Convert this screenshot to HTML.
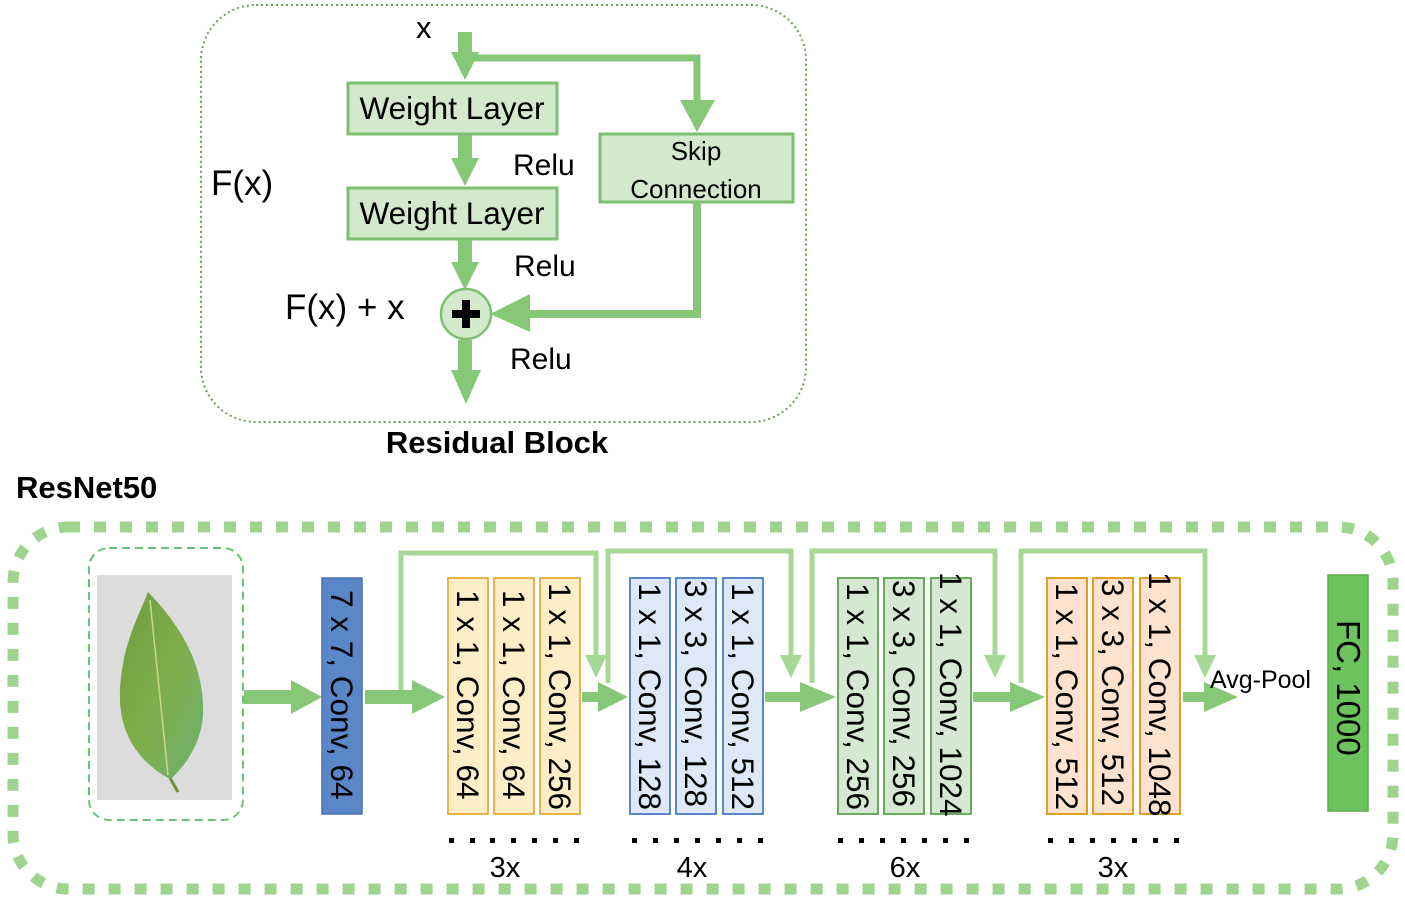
<!DOCTYPE html>
<html><head><meta charset="utf-8"><style>
html,body{margin:0;padding:0;background:#fff;}
svg{display:block;font-family:"Liberation Sans",Arial,sans-serif;}
</style></head><body>
<svg width="1405" height="903" viewBox="0 0 1405 903" xmlns="http://www.w3.org/2000/svg">
<defs>
<linearGradient id="lf" x1="0" y1="0" x2="1" y2="1">
<stop offset="0" stop-color="#6f9c3c"/><stop offset="0.5" stop-color="#7fae4a"/><stop offset="1" stop-color="#6fb070"/>
</linearGradient>
</defs>
<rect x="201" y="5" width="605" height="417" rx="55" fill="none" stroke="#6e9e5e" stroke-width="2" stroke-dasharray="2 3"/>
<text x="416" y="38" font-size="31">x</text>
<rect x="458" y="32" width="14" height="22" fill="#86c878"/>
<polygon points="451,52 479,52 465,80" fill="#86c878"/>
<polyline points="472,58 697,58 697,100" fill="none" stroke="#86c878" stroke-width="7"/>
<polygon points="680,100 715,100 697,132" fill="#86c878"/>
<rect x="348" y="83" width="209" height="51" fill="#d3e9cc" stroke="#7cc070" stroke-width="3"/>
<text x="452" y="119" font-size="31.5" text-anchor="middle">Weight Layer</text>
<rect x="458" y="135" width="14" height="26" fill="#86c878"/>
<polygon points="451,158 479,158 465,186" fill="#86c878"/>
<rect x="348" y="188" width="209" height="51" fill="#d3e9cc" stroke="#7cc070" stroke-width="3"/>
<text x="452" y="224" font-size="31.5" text-anchor="middle">Weight Layer</text>
<rect x="458" y="240" width="14" height="26" fill="#86c878"/>
<polygon points="451,262 479,262 465,290" fill="#86c878"/>
<rect x="600" y="134" width="193" height="68" fill="#d3e9cc" stroke="#7cc070" stroke-width="3"/>
<text x="696" y="160" font-size="26" text-anchor="middle">Skip</text>
<text x="696" y="198" font-size="26" text-anchor="middle">Connection</text>
<polyline points="697,202 697,314 525,314" fill="none" stroke="#86c878" stroke-width="8"/>
<polygon points="530,294 530,332 490,314" fill="#86c878"/>
<circle cx="466" cy="314" r="25" fill="#d3e9cc" stroke="#7cc070" stroke-width="2.5"/>
<rect x="462" y="300" width="8" height="28" fill="#000"/>
<rect x="452" y="310" width="28" height="8" fill="#000"/>
<rect x="458" y="340" width="14" height="32" fill="#86c878"/>
<polygon points="451,370 481,370 466,404" fill="#86c878"/>
<text x="513" y="175" font-size="30">Relu</text>
<text x="514" y="276" font-size="30">Relu</text>
<text x="510" y="369" font-size="30">Relu</text>
<text x="211" y="195" font-size="35">F(x)</text>
<text x="285" y="319" font-size="35">F(x) + x</text>
<text x="497" y="453" font-size="31" font-weight="bold" text-anchor="middle">Residual Block</text>
<text x="16" y="498" font-size="31" font-weight="bold">ResNet50</text>

<rect x="13" y="527" width="1380" height="362" rx="55" fill="none" stroke="#9fd48f" stroke-width="11" stroke-dasharray="12 14"/>
<rect x="89" y="548" width="154" height="272" rx="20" fill="none" stroke="#6cc47a" stroke-width="2" stroke-dasharray="8 5"/>
<rect x="97" y="575" width="135" height="225" fill="#dcdcdc"/>
<path d="M148,592 C175,620 205,660 203,715 C201,745 185,765 172,778 L168,778 C140,762 118,735 120,690 C122,645 138,618 148,592 Z" fill="url(#lf)"/>
<path d="M170,778 L178,792" stroke="#6f8f3a" stroke-width="3"/>
<path d="M150,600 L168,775" stroke="#c8d88a" stroke-width="1.5" fill="none"/>

<g fill="#86c878">
<rect x="244" y="690" width="50" height="14"/><polygon points="291,680 291,714 322,697"/>
<rect x="365" y="690" width="50" height="14"/><polygon points="412,680 412,714 445,697"/>
<rect x="582" y="692" width="20" height="10"/><polygon points="598,682 598,712 628,697"/>
<rect x="765" y="692" width="40" height="10"/><polygon points="800,682 800,712 836,697"/>
<rect x="973" y="692" width="40" height="10"/><polygon points="1010,682 1010,712 1045,697"/>
<rect x="1183" y="692" width="25" height="10"/><polygon points="1204,682 1204,712 1238,697"/>
</g>
<g fill="none" stroke="#a6d898" stroke-width="5">
<polyline points="401,690 401,553 596,553 596,660"/>
<polyline points="608,683 608,551 791,551 791,660"/>
<polyline points="812,683 812,551 995,551 995,660"/>
<polyline points="1021,683 1021,551 1205,551 1205,660"/>
</g>
<g fill="#a6d898">
<polygon points="585,655 607,655 596,678"/>
<polygon points="780,655 802,655 791,678"/>
<polygon points="984,655 1006,655 995,678"/>
<polygon points="1194,655 1216,655 1205,678"/>
</g>

<rect x="322" y="578" width="40" height="236" fill="#5b86c8" stroke="#4a72b0" stroke-width="1.5"/>
<g fill="#fdeec8" stroke="#e6b44e" stroke-width="2">
<rect x="448" y="578" width="40" height="236"/><rect x="494" y="578" width="40" height="236"/><rect x="540" y="578" width="40" height="236"/>
</g>
<g fill="#dde9f8" stroke="#5b86c8" stroke-width="2">
<rect x="630" y="578" width="40" height="236"/><rect x="676" y="578" width="40" height="236"/><rect x="723" y="578" width="40" height="236"/>
</g>
<g fill="#d5e8d2" stroke="#6aaa5e" stroke-width="2">
<rect x="838" y="578" width="40" height="236"/><rect x="884" y="578" width="40" height="236"/><rect x="931" y="578" width="40" height="236"/>
</g>
<g fill="#fde2cf" stroke="#e0a028" stroke-width="2">
<rect x="1047" y="578" width="40" height="236"/><rect x="1093" y="578" width="40" height="236"/><rect x="1140" y="578" width="40" height="236"/>
</g>
<rect x="1328" y="575" width="40" height="236" fill="#6cc25c" stroke="#5aae4a" stroke-width="1.5"/>

<g font-size="31.5" fill="#000">
<text transform="translate(331,590) rotate(90)">7 x 7, Conv, 64</text>
<text transform="translate(457,590) rotate(90)">1 x 1, Conv, 64</text>
<text transform="translate(503,590) rotate(90)">1 x 1, Conv, 64</text>
<text transform="translate(549,583) rotate(90)">1 x 1, Conv, 256</text>
<text transform="translate(639,583) rotate(90)">1 x 1, Conv, 128</text>
<text transform="translate(685,580) rotate(90)">3 x 3, Conv, 128</text>
<text transform="translate(732,583) rotate(90)">1 x 1, Conv, 512</text>
<text transform="translate(847,583) rotate(90)">1 x 1, Conv, 256</text>
<text transform="translate(893,580) rotate(90)">3 x 3, Conv, 256</text>
<text transform="translate(940,572) rotate(90)">1 x 1, Conv, 1024</text>
<text transform="translate(1056,583) rotate(90)">1 x 1, Conv, 512</text>
<text transform="translate(1102,579) rotate(90)">3 x 3, Conv, 512</text>
<text transform="translate(1149,572) rotate(90)">1 x 1, Conv, 1048</text>
<text transform="translate(1337,620) rotate(90)" font-size="33">FC, 1000</text>
</g>
<text x="1210" y="688" font-size="25">Avg-Pool</text>

<g fill="#000">
<rect x="449" y="838" width="5" height="5"/><rect x="470" y="838" width="5" height="5"/><rect x="490" y="838" width="5" height="5"/><rect x="511" y="838" width="5" height="5"/><rect x="532" y="838" width="5" height="5"/><rect x="553" y="838" width="5" height="5"/><rect x="574" y="838" width="5" height="5"/>
<rect x="632" y="838" width="5" height="5"/><rect x="653" y="838" width="5" height="5"/><rect x="674" y="838" width="5" height="5"/><rect x="695" y="838" width="5" height="5"/><rect x="716" y="838" width="5" height="5"/><rect x="737" y="838" width="5" height="5"/><rect x="758" y="838" width="5" height="5"/>
<rect x="838" y="838" width="5" height="5"/><rect x="859" y="838" width="5" height="5"/><rect x="880" y="838" width="5" height="5"/><rect x="901" y="838" width="5" height="5"/><rect x="922" y="838" width="5" height="5"/><rect x="943" y="838" width="5" height="5"/><rect x="964" y="838" width="5" height="5"/>
<rect x="1048" y="838" width="5" height="5"/><rect x="1069" y="838" width="5" height="5"/><rect x="1090" y="838" width="5" height="5"/><rect x="1111" y="838" width="5" height="5"/><rect x="1132" y="838" width="5" height="5"/><rect x="1153" y="838" width="5" height="5"/><rect x="1174" y="838" width="5" height="5"/>
</g>
<g font-size="29" text-anchor="middle">
<text x="505" y="877">3x</text>
<text x="692" y="877">4x</text>
<text x="905" y="877">6x</text>
<text x="1113" y="877">3x</text>
</g>
</svg>
</body></html>
